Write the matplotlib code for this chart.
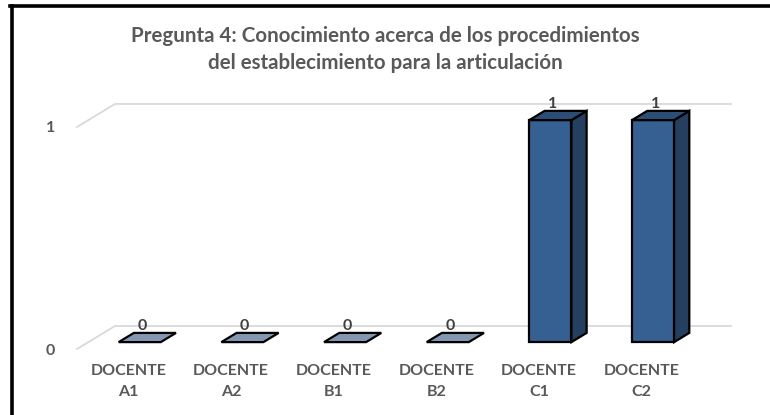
import matplotlib.pyplot as plt
from matplotlib.patches import Polygon
from matplotlib.lines import Line2D

# Datos del gráfico
categorias = ['DOCENTE\nA1', 'DOCENTE\nA2', 'DOCENTE\nB1', 'DOCENTE\nB2', 'DOCENTE\nC1', 'DOCENTE\nC2']
valores = [0, 0, 0, 0, 1, 1]
titulo = 'Pregunta 4: Conocimiento acerca de los procedimientos\ndel establecimiento para la articulación'

plt.rcParams['font.family'] = ['Lato', 'DejaVu Sans']

fig = plt.figure(figsize=(7.7, 4.15), dpi=100)
ax = fig.add_axes([0.1, 0.159, 0.8, 0.535])
ax.set_xlim(-0.5, len(categorias) - 0.5)
ax.set_ylim(0, 1)
ax.set_facecolor('none')
for s in ax.spines.values():
    s.set_visible(False)
ax.tick_params(length=0)

# profundidad 3D (en unidades de datos)
dx_tot, dy_tot = 0.37, 0.1036
d0, d1 = 0.30, 0.70
ancho = 0.41
gris = '#d9d9d9'

# pared del fondo y piso
for yv in [0, 1]:
    ax.plot([-0.5, -0.5 + dx_tot, len(categorias) - 0.5 + dx_tot],
            [yv, yv + dy_tot, yv + dy_tot], color=gris, lw=1.3,
            clip_on=False, zorder=1)

for i, v in enumerate(valores):
    x0 = i + d0 * dx_tot - ancho / 2
    x1 = x0 + ancho
    yb = d0 * dy_tot
    yt = v + d0 * dy_tot
    ox = (d1 - d0) * dx_tot
    oy = (d1 - d0) * dy_tot
    if v == 0:
        cara = Polygon([(x0, yb), (x1, yb), (x1 + ox, yb + oy), (x0 + ox, yb + oy)],
                       closed=True, fc='#8497b0', ec='black', lw=1.6,
                       clip_on=False, zorder=3)
        ax.add_patch(cara)
    else:
        frente = Polygon([(x0, yb), (x1, yb), (x1, yt), (x0, yt)], closed=True,
                         fc='#376092', ec='black', lw=1.6, clip_on=False, zorder=3)
        lado = Polygon([(x1, yb), (x1 + ox, yb + oy), (x1 + ox, yt + oy), (x1, yt)],
                       closed=True, fc='#243f60', ec='black', lw=1.6,
                       clip_on=False, zorder=3)
        tapa = Polygon([(x0, yt), (x1, yt), (x1 + ox, yt + oy), (x0 + ox, yt + oy)],
                       closed=True, fc='#2c4d75', ec='black', lw=1.6,
                       clip_on=False, zorder=3)
        for p in (frente, lado, tapa):
            ax.add_patch(p)
    ax.text(i + d0 * dx_tot + 0.02, v + d1 * dy_tot, str(v),
            ha='center', va='bottom', fontsize=11.5, fontweight='bold',
            color='#404040', zorder=4)

ax.set_xticks(range(len(categorias)))
ax.set_xticklabels(categorias, fontsize=11.5, fontweight='bold', color='#595959',
                   linespacing=1.6)
ax.tick_params(axis='x', pad=11)
ax.set_yticks([0, 1])
ax.set_yticklabels(['0', '1'], fontsize=11.5, fontweight='bold', color='#595959')
ax.tick_params(axis='y', pad=16)

fig.text(0.5, 0.937, titulo, ha='center', va='top', fontsize=14.8,
         fontweight='bold', color='#595959', linespacing=1.45)

# marco (bordes superior e izquierdo)
fig.add_artist(Line2D([11.5 / 770, 11.5 / 770], [0, 1 - 6.5 / 415],
                      transform=fig.transFigure, color='black', lw=2.6))
fig.add_artist(Line2D([10 / 770, 1], [1 - 6.5 / 415, 1 - 6.5 / 415],
                      transform=fig.transFigure, color='black', lw=2.6))

fig.savefig('out.png', dpi=100)
